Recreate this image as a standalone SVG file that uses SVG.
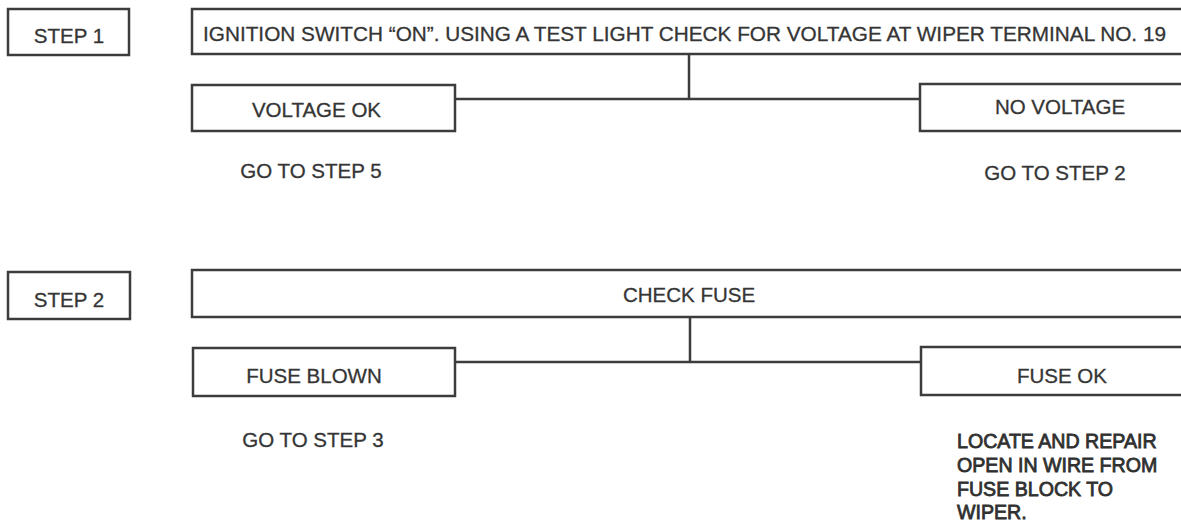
<svg xmlns="http://www.w3.org/2000/svg" width="1181" height="521" viewBox="0 0 1181 521">
<style>
.box{fill:#fff;stroke:#3c3c3c;stroke-width:2.5}
.t{font-family:"Liberation Sans",Arial,sans-serif;font-size:20.5px;fill:#353535;stroke:#353535;stroke-width:0.3;text-anchor:middle}
.b{font-family:"Liberation Sans",Arial,sans-serif;font-size:19.6px;fill:#303030;stroke:#303030;stroke-width:0.8}
.c{fill:none;stroke:#3c3c3c;stroke-width:2.5}
</style>
<rect width="1181" height="521" fill="#fff"/>
<g id="connectors">
<path class="c" d="M689,54 V99 M455,99 H920"/>
<path class="c" d="M690,317 V362 M455,362 H921"/>
</g>
<g id="step1"><rect class="box" x="8" y="9" width="121" height="46"/><text class="t" x="69" y="43">STEP 1</text></g>
<g id="ignition"><rect class="box" x="192" y="9" width="1000" height="45"/><text class="t" x="684.5" y="41" textLength="963" lengthAdjust="spacingAndGlyphs">IGNITION SWITCH “ON”. USING A TEST LIGHT CHECK FOR VOLTAGE AT WIPER TERMINAL NO. 19</text></g>
<g id="voltage-ok"><rect class="box" x="192" y="85" width="263" height="46"/><text class="t" x="316.5" y="117">VOLTAGE OK</text></g>
<g id="no-voltage"><rect class="box" x="920" y="84" width="270" height="47"/><text class="t" x="1060" y="114">NO VOLTAGE</text></g>
<g id="goto5"><text class="t" x="311" y="178">GO TO STEP 5</text></g>
<g id="goto2"><text class="t" x="1055" y="180">GO TO STEP 2</text></g>
<g id="step2"><rect class="box" x="8" y="272" width="122" height="47"/><text class="t" x="69" y="307">STEP 2</text></g>
<g id="check-fuse"><rect class="box" x="192" y="270" width="1000" height="47"/><text class="t" x="689" y="302">CHECK FUSE</text></g>
<g id="fuse-blown"><rect class="box" x="193" y="348" width="262" height="48"/><text class="t" x="314" y="383">FUSE BLOWN</text></g>
<g id="fuse-ok"><rect class="box" x="921" y="347" width="270" height="48"/><text class="t" x="1062" y="383">FUSE OK</text></g>
<g id="goto3"><text class="t" x="313" y="447">GO TO STEP 3</text></g>
<g id="locate"><text class="b" x="957" y="448">LOCATE AND REPAIR</text><text class="b" x="957" y="472">OPEN IN WIRE FROM</text><text class="b" x="957" y="496">FUSE BLOCK TO</text><text class="b" x="957" y="519">WIPER.</text></g>
</svg>
